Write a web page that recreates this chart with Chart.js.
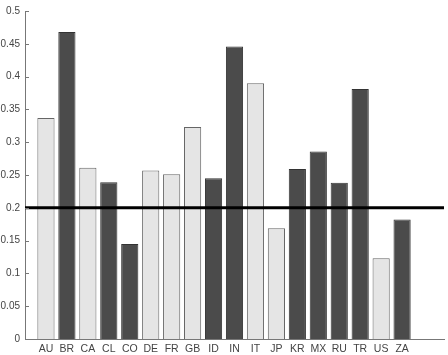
<!DOCTYPE html>
<html><head><meta charset="utf-8">
<script src="https://cdn.jsdelivr.net/npm/chart.js@4"></script>
<style>html,body{margin:0;padding:0;background:#fff}#wrap{width:448px;height:355px}</style>
</head><body><div id="wrap"><canvas id="c"></canvas></div>
<script>
const categories = ['AU','BR','CA','CL','CO','DE','FR','GB','ID','IN','IT','JP','KR','MX','RU','TR','US','ZA'];
const values = [0.337,0.468,0.261,0.239,0.145,0.257,0.251,0.323,0.245,0.446,0.390,0.169,0.259,0.286,0.238,0.381,0.123,0.182];
const groups = ['A','E','A','E','E','A','A','A','E','E','A','A','E','E','E','E','A','E'];
const threshold = 0.2;
const yTicks = [0,0.05,0.1,0.15,0.2,0.25,0.3,0.35,0.4,0.45,0.5];

const fillCol = {A:'#e5e5e5', E:'#4b4b4b'};
const edgeCol = {A:'#666666', E:'#333333'};

const barData = categories.map((c,i)=>({x:i+1, y:values[i]}));
const xMax = categories.length + 2;

const innerTicks = {
  id:'innerTicks',
  afterDraw(chart){
    const y = chart.scales.y, ctx = chart.ctx;
    ctx.save(); ctx.strokeStyle='#777'; ctx.lineWidth=1;
    yTicks.forEach(v=>{const p=Math.round(y.getPixelForValue(v))+0.5;
      ctx.beginPath(); ctx.moveTo(y.right, p); ctx.lineTo(y.right+4, p); ctx.stroke();});
    ctx.restore();
  }
};

new Chart(document.getElementById('c'), {
  data: {
    datasets: [
      {type:'bar', data: barData,
       backgroundColor: groups.map(g=>fillCol[g]),
       borderColor: groups.map(g=>edgeCol[g]),
       borderWidth: 1, barPercentage: 0.82, categoryPercentage: 1, order: 2},
      {type:'line', data:[{x:0,y:threshold},{x:xMax,y:threshold}],
       borderColor:'#000', borderWidth:3, pointRadius:0, order:1}
    ]
  },
  plugins:[innerTicks],
  options: {
    responsive:true, maintainAspectRatio:false, animation:false,
    layout:{padding:{left:0,right:4,top:7,bottom:0}},
    plugins:{legend:{display:false}, tooltip:{enabled:false}},
    scales:{
      x:{type:'linear', min:0, max:xMax, offset:false,
         afterFit(s){s.height=16;},
         afterBuildTicks(s){s.ticks = categories.map((c,i)=>({value:i+1}));},
         grid:{display:false, drawTicks:false},
         border:{display:true, color:'#777', width:1},
         ticks:{autoSkip:false, maxRotation:0, padding:4, color:'#444',
                font:{family:'Liberation Sans, Arial', size:10.5},
                callback:(v)=>categories[v-1] ?? ''}},
      y:{min:0, max:0.5,
         afterFit(s){s.width=25;},
         afterBuildTicks(s){s.ticks = yTicks.map(v=>({value:v}));},
         grid:{display:false, drawTicks:false},
         border:{display:true, color:'#777', width:1},
         ticks:{padding:5, color:'#444', font:{family:'Liberation Sans, Arial', size:10},
                callback:(v)=>String(+v.toFixed(2))}}
    }
  }
});
</script></body></html>
